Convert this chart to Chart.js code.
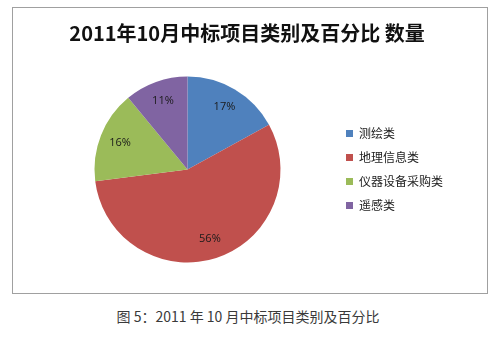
<!DOCTYPE html>
<html>
<head>
<meta charset="utf-8">
<script src="https://cdn.jsdelivr.net/npm/chart.js@4"></script>
<style>
  body { margin: 0; background: #fff; width: 500px; height: 339px; position: relative; overflow: hidden; }
  #box { position: absolute; left: 12px; top: 7px; width: 474px; height: 285px; border: 1px solid #a0a0a0; }
  #caption { position: absolute; left: 0; top: 306px; width: 496px; text-align: center;
    font: 14px "Noto Sans CJK SC", sans-serif; color: #3a3a3a; line-height: 20px; }
</style>
</head>
<body>
<div id="box"><canvas id="grafica" width="474" height="285"></canvas></div>
<div id="caption">图 5：2011 年 10 月中标项目类别及百分比</div>
<script>
const categorias = ['测绘类', '地理信息类', '仪器设备采购类', '遥感类'];
const porcentajes = [17, 56, 16, 11];
const colores = ['#4F81BD', '#C0504D', '#9BBB59', '#8064A2'];

// etiquetas de porcentaje dentro de cada sector
const etiquetas = {
  id: 'etiquetas',
  afterDatasetsDraw(chart) {
    const ctx = chart.ctx;
    const meta = chart.getDatasetMeta(0);
    ctx.save();
    ctx.font = '11px "Open Sans", sans-serif';
    ctx.fillStyle = '#1a1a1a';
    ctx.textAlign = 'center';
    ctx.textBaseline = 'middle';
    meta.data.forEach((arc, i) => {
      const p = arc.getProps(['x', 'y', 'startAngle', 'endAngle', 'outerRadius']);
      const mid = (p.startAngle + p.endAngle) / 2;
      const r = p.outerRadius * 0.78;
      ctx.fillText(porcentajes[i] + '%', p.x + Math.cos(mid) * r, p.y + Math.sin(mid) * r);
    });
    ctx.restore();
  }
};

new Chart(document.getElementById('grafica'), {
  type: 'pie',
  data: {
    labels: categorias,
    datasets: [{
      label: '数量',
      data: porcentajes,
      backgroundColor: colores,
      borderWidth: 0,
      radius: 93
    }]
  },
  options: {
    animation: false,
    responsive: false,
    layout: { padding: { left: 28, right: 34, top: 0, bottom: 12 } },
    plugins: {
      title: {
        display: true,
        text: '2011年10月中标项目类别及百分比 数量',
        color: '#111',
        font: { family: '"Noto Sans CJK SC", sans-serif', size: 20, weight: 'bold' },
        padding: { top: 13, bottom: 13 }
      },
      legend: {
        position: 'right',
        fullSize: false,
        labels: {
          boxWidth: 7,
          boxHeight: 7,
          padding: 12,
          color: '#222',
          font: { family: '"Noto Sans CJK SC", sans-serif', size: 12 }
        }
      },
      tooltip: { enabled: false }
    }
  },
  plugins: [etiquetas]
});
</script>
</body>
</html>
